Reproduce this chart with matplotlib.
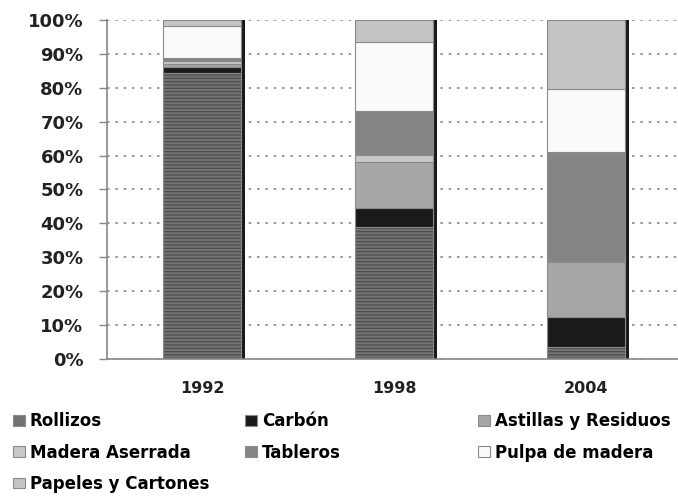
import numpy as np
import matplotlib.pyplot as plt
from matplotlib.patches import Patch

# datos (porcentaje por año)
years = ['1992', '1998', '2004']
series = ['Rollizos', 'Carbón', 'Astillas y Residuos', 'Madera Aserrada',
          'Tableros', 'Pulpa de madera', 'Papeles y Cartones']
rollizos = [84.4, 39.0, 3.5]
carbon = [1.7, 5.5, 8.9]
astillas = [0.8, 13.7, 16.1]
madera_aserrada = [0.9, 2.1, 0.5]
tableros = [1.0, 12.7, 32.0]
pulpa = [9.3, 20.5, 18.5]
papeles = [1.9, 6.5, 20.5]
values = [rollizos, carbon, astillas, madera_aserrada, tableros, pulpa, papeles]
colors = ['#727272', '#1a1a1a', '#a6a6a6', '#c8c8c8', '#858585', '#fafafa', '#c4c4c4']

plt.rcParams['font.family'] = 'DejaVu Sans'
plt.rcParams['font.weight'] = 'bold'
plt.rcParams['hatch.linewidth'] = 0.8

fig = plt.figure(figsize=(6.78, 4.99), dpi=100)
ax = fig.add_axes([0.158, 0.2806, 0.842, 0.6794])

x = np.arange(len(years))
w = 0.41

# sombra a la derecha de cada barra
ax.bar(x + 0.018, [100] * 3, w, color='#1a1a1a', zorder=1)

bottom = np.zeros(3)
handles = []
for name, vals, c in zip(series, values, colors):
    if name == 'Rollizos':
        ax.bar(x, vals, w, bottom=bottom, color=c, edgecolor='#4a4a4a',
               hatch='-----', linewidth=0, zorder=2)
        ax.bar(x, vals, w, bottom=bottom, facecolor='none', edgecolor='#8a8a8a',
               linewidth=0.8, zorder=3)
    else:
        ax.bar(x, vals, w, bottom=bottom, color=c, edgecolor='#8a8a8a',
               linewidth=0.8, zorder=2)
    handles.append(Patch(facecolor=c, edgecolor='#8a8a8a', linewidth=0.8))
    bottom += np.array(vals)

ax.set_ylim(0, 100)
ax.set_xlim(-0.495, 2.48)
ax.set_yticks(np.arange(0, 101, 10))
ax.set_yticklabels([f'{v}%' for v in range(0, 101, 10)], fontsize=13, fontweight='bold',
                   color='#222222')
ax.set_xticks(x)
ax.set_xticklabels(years, fontsize=11.5, fontweight='bold', color='#222222')
ax.tick_params(axis='x', length=0, pad=16)
ax.tick_params(axis='y', length=6, color='#888888', width=1, pad=11)
ax.grid(axis='y', linestyle=(0, (1.5, 3.5)), color='#888888', linewidth=1.2, zorder=0)
ax.set_axisbelow(True)
for s in ['top', 'right']:
    ax.spines[s].set_visible(False)
ax.spines['left'].set_color('#888888')
ax.spines['bottom'].set_color('#888888')
ax.spines['left'].set_linewidth(1.2)
ax.spines['bottom'].set_linewidth(1.2)

# leyenda: tres columnas de igual ancho
columns = [[0, 3, 6], [1, 4], [2, 5]]
col_x = [0.019, 0.361, 0.705]
for idx, cx in zip(columns, col_x):
    fig.legend([handles[i] for i in idx], [series[i] for i in idx],
               loc='upper left', bbox_to_anchor=(cx, 0.174), frameon=False,
               fontsize=12, handlelength=0.72, handleheight=0.62,
               handletextpad=0.3, labelspacing=0.8, borderaxespad=0, borderpad=0)

fig.savefig('out.png', dpi=100)
